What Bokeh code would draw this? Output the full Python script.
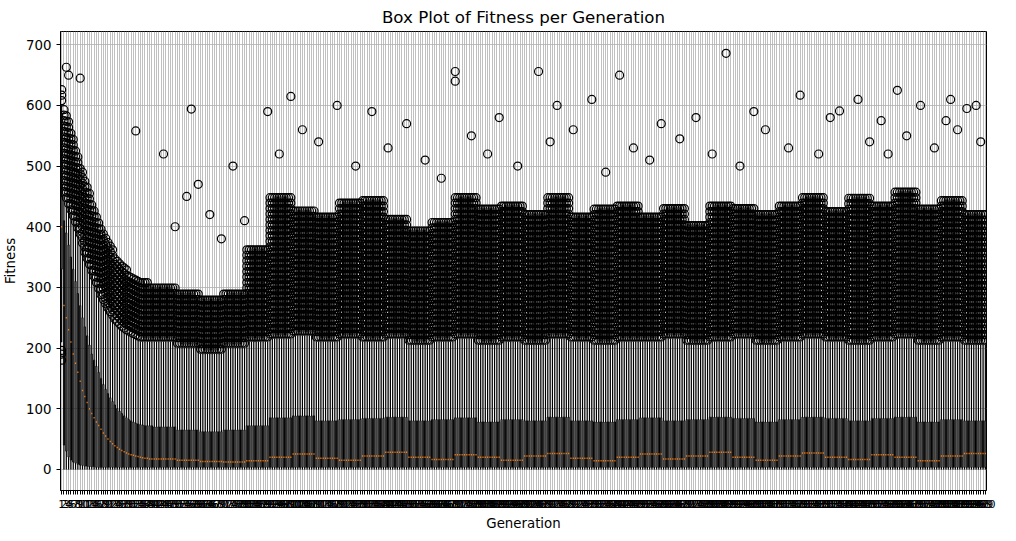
from bokeh.plotting import figure
from bokeh.models import ColumnDataSource, FixedTicker
from bokeh.embed import file_html
from bokeh.resources import INLINE

N_GEN = 400

# first 40 generations, read one by one
early_q1 = [330, 40, 30, 20, 15, 12, 10, 8, 7, 6, 5, 5, 4, 4, 4, 3, 3, 3, 3, 3,
            3, 3, 3, 3, 3, 3, 3, 3, 3, 3, 3, 3, 3, 3, 3, 3, 3, 3, 3, 3]
early_med = [400, 270, 250, 230, 210, 190, 175, 160, 145, 130, 120, 110, 100, 92, 85, 78, 72, 66, 60, 55,
             50, 46, 42, 39, 36, 33, 31, 29, 27, 25, 24, 23, 22, 21, 20, 19, 18, 18, 17, 17]
early_q3 = [450, 410, 390, 370, 350, 330, 310, 290, 270, 250, 235, 220, 205, 190, 180, 170, 160, 150, 140, 132,
            125, 118, 112, 106, 100, 96, 92, 88, 85, 82, 80, 78, 76, 75, 74, 73, 72, 72, 72, 72]
early_lo = [210, 0, 0, 0, 0, 0, 0, 0, 0, 0, 0, 0, 0, 0, 0, 0, 0, 0, 0, 0,
            0, 0, 0, 0, 0, 0, 0, 0, 0, 0, 0, 0, 0, 0, 0, 0, 0, 0, 0, 0]
early_hi = [600, 450, 440, 430, 420, 410, 400, 390, 380, 365, 350, 340, 330, 320, 310, 300, 290, 280, 272, 265,
            258, 252, 246, 240, 236, 232, 228, 225, 222, 220, 218, 216, 214, 212, 210, 210, 210, 210, 210, 210]
early_otop = [630, 600, 590, 580, 560, 545, 530, 515, 500, 490, 480, 470, 455, 440, 430, 420, 410, 400, 392, 385,
              378, 370, 362, 355, 350, 345, 340, 335, 330, 325, 322, 320, 318, 316, 314, 312, 310, 308, 306, 305]

# generations 41-400, read in blocks of ten
block_med = [17, 15, 13, 12, 14, 20, 25, 18, 15, 22, 28, 20, 16, 24, 20, 15, 22, 26,
             18, 14, 20, 25, 17, 22, 28, 20, 15, 22, 27, 20, 16, 24, 20, 14, 22, 26]
block_q3 = [70, 65, 62, 65, 72, 85, 88, 80, 82, 84, 86, 80, 82, 85, 78, 82, 80, 86,
            80, 78, 82, 85, 80, 82, 86, 84, 78, 82, 86, 84, 80, 84, 86, 78, 82, 80]
block_hi = [210, 200, 190, 200, 210, 215, 220, 210, 215, 210, 215, 205, 210, 215, 205, 210, 205, 215,
            210, 205, 210, 210, 215, 205, 210, 215, 205, 210, 215, 210, 205, 210, 215, 205, 210, 205]
block_otop = [300, 290, 280, 290, 370, 450, 430, 420, 440, 450, 420, 400, 410, 450, 430, 440, 420, 450,
              420, 430, 440, 420, 430, 410, 440, 430, 420, 440, 450, 430, 450, 440, 460, 430, 450, 420]

# scattered high / low outliers (generation, fitness)
sparse_gen = [1, 1, 1, 3, 4, 9, 33, 57, 45, 60, 75, 90, 100, 120, 135, 150, 171, 171, 190, 207,
              215, 230, 242, 260, 275, 288, 300, 320, 337, 345, 355, 362, 372, 383, 385, 392, 396,
              50, 55, 65, 70, 80, 95, 105, 112, 128, 142, 158, 165, 178, 185, 198, 212, 222, 236,
              248, 255, 268, 282, 294, 305, 315, 328, 333, 350, 358, 366, 378, 388, 398]
sparse_val = [180, 190, 196, 663, 650, 645, 558, 594, 520, 470, 500, 590, 615, 600, 590, 570, 656, 640, 580, 656,
              600, 610, 650, 570, 580, 686, 590, 617, 591, 610, 575, 625, 600, 575, 610, 595, 600,
              400, 450, 420, 380, 410, 520, 560, 540, 500, 530, 510, 480, 550, 520, 500, 540, 560, 490,
              530, 510, 545, 520, 500, 560, 530, 520, 580, 540, 520, 550, 530, 560, 540]

gens = list(range(1, N_GEN + 1))
q1, med, q3, lo, hi, otop = [], [], [], [], [], []
for g in gens:
    if g <= 40:
        i = g - 1
        q1.append(early_q1[i]); med.append(early_med[i]); q3.append(early_q3[i])
        lo.append(early_lo[i]); hi.append(early_hi[i]); otop.append(early_otop[i])
    else:
        b = (g - 41) // 10
        q1.append(3); med.append(block_med[b]); q3.append(block_q3[b])
        lo.append(0); hi.append(block_hi[b]); otop.append(block_otop[b])

src = ColumnDataSource(dict(x=gens, q1=q1, med=med, q3=q3, lo=lo, hi=hi,
                            l=[g - 0.25 for g in gens], r=[g + 0.25 for g in gens],
                            cl=[g - 0.125 for g in gens], cr=[g + 0.125 for g in gens]))

# dense outlier cloud between the upper whisker and the highest outlier of each generation
ox, oy = [], []
for g, h, t in zip(gens, hi, otop):
    v = h + 8
    while v <= t:
        ox.append(g); oy.append(v)
        v += 9
ox += sparse_gen
oy += sparse_val

p = figure(width=1000, height=533, output_backend="svg", toolbar_location=None,
           title="Box Plot of Fitness per Generation",
           x_range=(0.5, N_GEN + 0.5), y_range=(-35, 722),
           x_axis_label="Generation", y_axis_label="Fitness",
           min_border_left=50, min_border_right=14, min_border_bottom=10)
p.title.align = "center"
p.title.text_font = "DejaVu Sans"
p.title.text_font_style = "normal"
p.title.text_font_size = "12.5pt"
p.title.text_color = "black"

p.segment("x", "q3", "x", "hi", source=src, line_color="black", line_width=1.2)
p.segment("x", "lo", "x", "q1", source=src, line_color="black", line_width=1.2)
p.segment("cl", "hi", "cr", "hi", source=src, line_color="black", line_width=1)
p.segment("cl", "lo", "cr", "lo", source=src, line_color="black", line_width=1)
p.quad(left="l", right="r", bottom="q1", top="q3", source=src,
       fill_alpha=0, line_color="black", line_width=1)
p.segment("l", "med", "r", "med", source=src, line_color="#ff7f0e", line_width=1.5)
p.scatter(ox, oy, size=8, fill_alpha=0, line_color="black", line_width=1.2)

p.xaxis.ticker = FixedTicker(ticks=gens)
p.xaxis.major_label_overrides = {g: str(g) for g in gens}
p.yaxis.ticker = FixedTicker(ticks=[0, 100, 200, 300, 400, 500, 600, 700])
for ax in (p.xaxis, p.yaxis):
    ax.major_label_text_font = "DejaVu Sans"
    ax.major_label_text_font_size = "10pt"
    ax.major_label_text_color = "black"
    ax.axis_label_text_font = "DejaVu Sans"
    ax.axis_label_text_font_style = "normal"
    ax.axis_label_text_font_size = "10pt"
    ax.axis_label_text_color = "black"
    ax.axis_line_color = "black"
    ax.major_tick_line_color = "black"
    ax.minor_tick_line_color = None
    ax.major_tick_in = 0
    ax.major_tick_out = 4
p.xaxis.major_label_text_font_size = "8pt"
p.grid.grid_line_color = "#b0b0b0"
p.grid.grid_line_width = 0.8
p.outline_line_color = "black"

open("out.html", "w").write(file_html(p, INLINE))
